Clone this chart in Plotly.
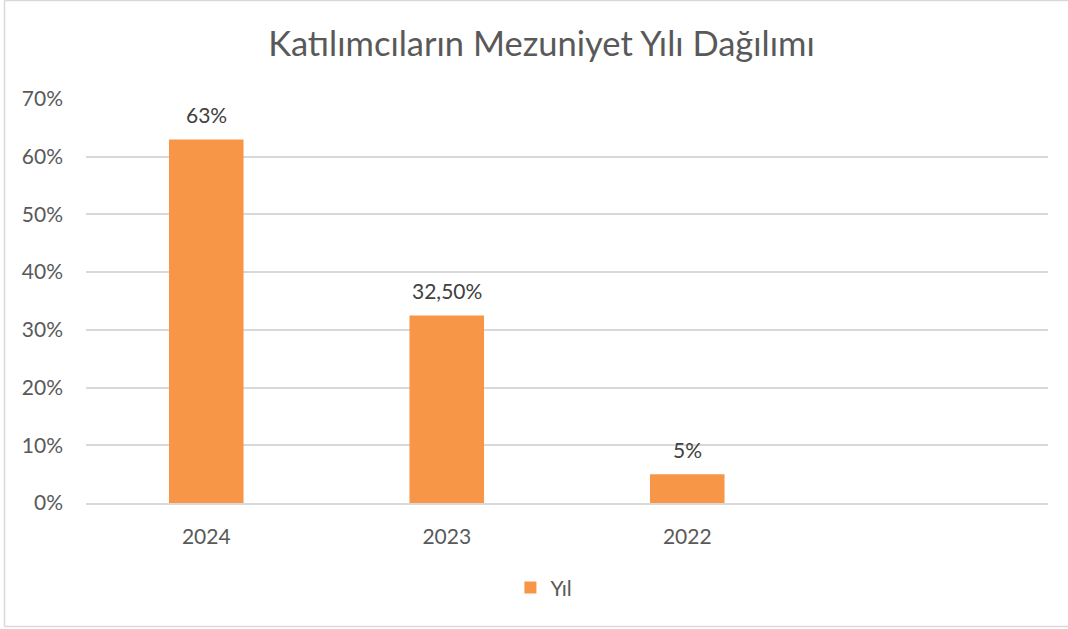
import plotly.graph_objects as go

categories = ["2024", "2023", "2022"]
values = [0.63, 0.325, 0.05]
value_labels = ["63%", "32,50%", "5%"]
tick_vals = [0, 0.1, 0.2, 0.3, 0.4, 0.5, 0.6, 0.7]
tick_text = ["0%", "10%", "20%", "30%", "40%", "50%", "60%", "70%"]
series_name = "Yıl"
title_text = "Katılımcıların Mezuniyet Yılı Dağılımı"

FONT = "Lato"
GRAY = "#595959"
ORANGE = "#F79646"
BORDER = "#D9D9D9"

fig = go.Figure()
fig.add_trace(go.Bar(
    x=categories, y=values, name=series_name,
    marker=dict(color=ORANGE, line=dict(width=0)),
    showlegend=True,
))

for i, (v, t) in enumerate(zip(values, value_labels)):
    fig.add_annotation(x=i, y=v, text=t, showarrow=False, yanchor="bottom",
                       yshift=10, font=dict(family=FONT, size=21, color="#404040"))

fig.update_layout(
    width=1068, height=629,
    margin=dict(l=86, r=20, t=99, b=126),
    paper_bgcolor="white", plot_bgcolor="white",
    bargap=0.69,
    title=dict(text=title_text, x=0.507, xanchor="center", y=0.93, yanchor="middle",
               font=dict(family=FONT, size=34.5, color=GRAY)),
    showlegend=True,
    legend=dict(orientation="h", x=0.476, xanchor="center", y=-0.21, yanchor="middle",
                font=dict(family=FONT, size=21, color=GRAY)),
    xaxis=dict(type="category", categoryorder="array", categoryarray=categories,
               range=[-0.5, 3.5], showgrid=False, showline=True, linecolor=BORDER,
               linewidth=2, ticks="", ticklabelstandoff=14,
               tickfont=dict(family=FONT, size=21, color=GRAY), fixedrange=True),
    yaxis=dict(range=[0, 0.7], tickvals=tick_vals, ticktext=tick_text,
               showgrid=True, gridcolor=BORDER, gridwidth=1.5, zeroline=False,
               ticks="", ticklabelstandoff=22,
               tickfont=dict(family=FONT, size=21, color=GRAY), fixedrange=True),
)

# outer chart border (top, left, bottom; right edge lies outside the image)
xl = (4.5 - 86) / 962
xr = (1068 - 86) / 962
yb = (503 - 626.5) / 404
yt = (503 - 0.5) / 404
for x0, y0, x1, y1 in [(xl, yt, xr, yt), (xl, yb, xr, yb), (xl, yb, xl, yt)]:
    fig.add_shape(type="line", xref="paper", yref="paper", x0=x0, y0=y0, x1=x1, y1=y1,
                  line=dict(color=BORDER, width=1.5), layer="below")

fig.write_html("out.html", config={"displayModeBar": False},
               post_script="document.body.style.margin='0';document.body.style.overflow='hidden';")
